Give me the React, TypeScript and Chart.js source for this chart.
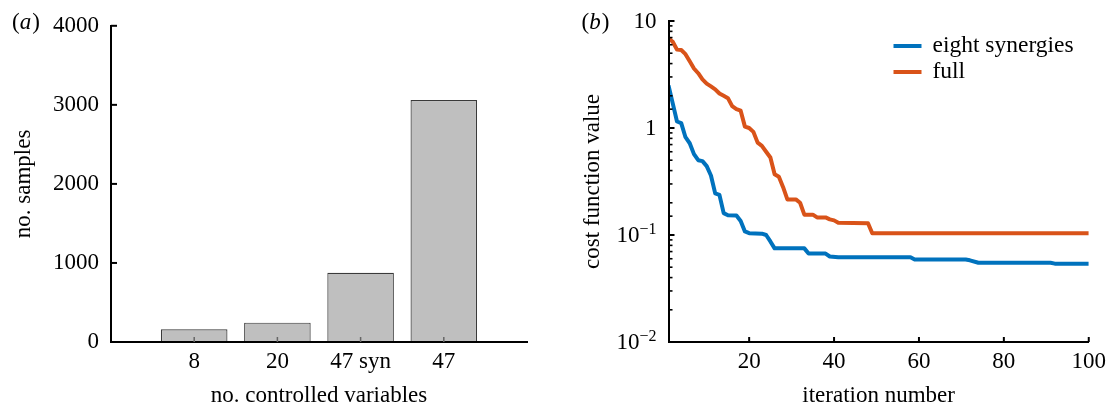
import React, { useEffect, useRef } from "react";
import { Chart, registerables } from "chart.js";

Chart.register(...registerables);

// ---------- data: panel (a) ----------
const categories = ["8", "20", "47 syn", "47"];
const sampleCounts = [160, 245, 875, 3060];
const sampleTicks = [0, 1000, 2000, 3000, 4000];

// ---------- data: panel (b) ----------
const synIter = [1, 2, 3, 4, 5, 6, 7, 8, 9, 10, 11, 12, 13, 14, 15, 17, 18, 19, 20, 23, 24, 25, 26, 33, 34, 38, 39, 41, 58, 59, 71, 72, 74, 91, 92, 100];
const synCost = [2.5, 1.7, 1.15, 1.11, 0.82, 0.72, 0.57, 0.5, 0.49, 0.44, 0.36, 0.245, 0.237, 0.16, 0.153, 0.152, 0.135, 0.108, 0.104, 0.103, 0.1, 0.087, 0.075, 0.075, 0.067, 0.067, 0.063, 0.062, 0.062, 0.059, 0.059, 0.058, 0.055, 0.055, 0.054, 0.054];

const fullIter = [1, 2, 3, 4, 5, 6, 7, 8, 9, 10, 11, 12, 13, 14, 15, 16, 17, 18, 19, 20, 21, 22, 23, 24, 25, 26, 27, 28, 29, 31, 32, 33, 35, 36, 38, 39, 40, 41, 48, 49, 100];
const fullCost = [6.9, 6.4, 5.4, 5.35, 4.9, 4.2, 3.6, 3.25, 2.85, 2.6, 2.45, 2.3, 2.1, 2.0, 1.9, 1.6, 1.5, 1.45, 1.03, 1.0, 0.92, 0.73, 0.68, 0.6, 0.53, 0.37, 0.35, 0.28, 0.215, 0.215, 0.2, 0.155, 0.155, 0.146, 0.146, 0.14, 0.137, 0.13, 0.129, 0.104, 0.104];

const iterTicks = [20, 40, 60, 80, 100];
const costDecades = [0.01, 0.1, 1, 10];

const seriesLabels = ["eight synergies", "full"];
const seriesColors = ["#0072bd", "#d95319"];

// ---------- styling ----------
const FAMILY = "'Liberation Serif', 'Times New Roman', Times, serif";
const FONT = { family: FAMILY, size: 23, weight: "normal" as const };
const BLACK = "#000";

function line(ctx: CanvasRenderingContext2D, x1: number, y1: number, x2: number, y2: number) {
  ctx.beginPath();
  ctx.moveTo(x1, y1);
  ctx.lineTo(x2, y2);
  ctx.stroke();
}

function drawPanelLetter(ctx: CanvasRenderingContext2D, letter: string, x: number, baseline: number) {
  ctx.save();
  ctx.fillStyle = BLACK;
  ctx.textAlign = "left";
  ctx.textBaseline = "alphabetic";
  ctx.font = `23px ${FAMILY}`;
  ctx.fillText("(", x, baseline);
  let w = ctx.measureText("(").width;
  ctx.font = `italic 23px ${FAMILY}`;
  ctx.fillText(letter, x + w, baseline);
  w += ctx.measureText(letter).width;
  ctx.font = `23px ${FAMILY}`;
  ctx.fillText(")", x + w + 1, baseline);
  ctx.restore();
}

const leftDecor = {
  id: "leftDecor",
  afterDraw(chart: any) {
    const ctx: CanvasRenderingContext2D = chart.ctx;
    const xs = chart.scales.x;
    const ys = chart.scales.y;
    ctx.save();
    ctx.lineCap = "butt";
    ctx.strokeStyle = BLACK;
    ctx.lineWidth = 2;
    sampleTicks.forEach((v) => {
      const py = ys.getPixelForValue(v);
      line(ctx, xs.left, py, xs.left + 6, py);
    });
    ctx.strokeStyle = "#666";
    ctx.lineWidth = 1.5;
    categories.forEach((_, i) => {
      const px = xs.getPixelForValue(i + 1);
      line(ctx, px, ys.bottom, px, ys.bottom - 5);
    });
    ctx.restore();
    drawPanelLetter(ctx, "a", 12, 29);
  },
};

const rightDecor = {
  id: "rightDecor",
  afterDraw(chart: any) {
    const ctx: CanvasRenderingContext2D = chart.ctx;
    const xs = chart.scales.x;
    const ys = chart.scales.y;
    const area = chart.chartArea;
    ctx.save();
    ctx.lineCap = "butt";
    ctx.strokeStyle = BLACK;
    // log ticks (inward)
    ys.ticks.forEach((t: any) => {
      const v = t.value;
      if (v < 0.01 - 1e-12 || v > 10 + 1e-9) return;
      const lg = Math.log10(v);
      const major = Math.abs(lg - Math.round(lg)) < 1e-6;
      const py = ys.getPixelForValue(v);
      ctx.lineWidth = major ? 2 : 1.6;
      line(ctx, area.left, py, area.left + (major ? 6 : 4), py);
    });
    // x ticks (inward)
    ctx.lineWidth = 2;
    iterTicks.forEach((v) => {
      const px = xs.getPixelForValue(v);
      line(ctx, px, area.bottom, px, area.bottom - 5);
    });
    // y labels with superscripts
    ctx.fillStyle = BLACK;
    ctx.textAlign = "right";
    ctx.textBaseline = "middle";
    const xr = area.left - 12;
    costDecades.forEach((v) => {
      const e = Math.round(Math.log10(v));
      const py = ys.getPixelForValue(v) + 1;
      if (e >= 0) {
        ctx.font = `23px ${FAMILY}`;
        ctx.fillText(e === 0 ? "1" : "1" + "0".repeat(e), xr, py);
      } else {
        const sup = "\u2212" + String(-e);
        ctx.font = `16px ${FAMILY}`;
        const sw = ctx.measureText(sup).width;
        ctx.fillText(sup, xr, py - 6);
        ctx.font = `23px ${FAMILY}`;
        ctx.fillText("10", xr - sw, py);
      }
    });
    // legend
    ctx.textAlign = "left";
    ctx.textBaseline = "middle";
    ctx.font = `23.5px ${FAMILY}`;
    chart.data.datasets.forEach((ds: any, i: number) => {
      const ly = area.top + 25 + i * 26;
      ctx.strokeStyle = ds.borderColor;
      ctx.lineWidth = 4;
      line(ctx, area.left + 225, ly, area.left + 253, ly);
      ctx.fillStyle = BLACK;
      ctx.fillText(ds.label, area.left + 264, ly);
    });
    ctx.restore();
    drawPanelLetter(ctx, "b", 21.5, 29);
  },
};

function leftConfig(): any {
  return {
    type: "bar",
    data: {
      datasets: [
        {
          label: "no. samples",
          data: categories.map((_, i) => ({ x: i + 1, y: sampleCounts[i] })),
          backgroundColor: "#bfbfbf",
          borderColor: "#3a3a3a",
          borderWidth: 1.2,
          barPercentage: 0.8,
          categoryPercentage: 1,
        },
      ],
    },
    options: {
      responsive: false,
      animation: false,
      layout: { padding: { top: 22, right: 33, bottom: 0, left: 0 } },
      plugins: { legend: { display: false }, tooltip: { enabled: false } },
      scales: {
        x: {
          type: "linear",
          min: 0,
          max: categories.length + 1,
          offset: false,
          grid: { display: false, drawTicks: false },
          border: { display: true, color: BLACK, width: 2, z: 1 },
          afterBuildTicks: (s: any) => {
            s.ticks = categories.map((_, i) => ({ value: i + 1 }));
          },
          afterFit: (s: any) => {
            s.height = 68;
          },
          ticks: {
            callback: (v: number) => categories[Math.round(v) - 1] ?? "",
            font: FONT,
            color: BLACK,
            padding: 6,
            maxRotation: 0,
            autoSkip: false,
          },
          title: {
            display: true,
            text: "no. controlled variables",
            font: FONT,
            color: BLACK,
            padding: { top: 0, bottom: 0 },
          },
        },
        y: {
          min: 0,
          max: 4000,
          ticks: {
            stepSize: 1000,
            font: FONT,
            color: BLACK,
            padding: 12,
            callback: (v: number) => String(v),
          },
          grid: { display: false, drawTicks: false },
          border: { display: true, color: BLACK, width: 2, z: 1 },
          afterFit: (s: any) => {
            s.width = 111;
          },
          title: {
            display: true,
            text: "no. samples",
            font: FONT,
            color: BLACK,
            padding: { top: 10, bottom: 0 },
          },
        },
      },
    },
    plugins: [leftDecor],
  };
}

function rightConfig(): any {
  const iters = [synIter, fullIter];
  const costs = [synCost, fullCost];
  return {
    type: "line",
    data: {
      datasets: seriesLabels.map((label, k) => ({
        label,
        data: iters[k].map((x, i) => ({ x, y: costs[k][i] })),
        borderColor: seriesColors[k],
        backgroundColor: seriesColors[k],
        borderWidth: 4,
        pointRadius: 0,
        tension: 0,
        fill: false,
        borderJoinStyle: "round",
      })),
    },
    options: {
      responsive: false,
      animation: false,
      layout: { padding: { top: 21, right: 21, bottom: 0, left: 0 } },
      plugins: { legend: { display: false }, tooltip: { enabled: false } },
      scales: {
        x: {
          type: "linear",
          min: 1,
          max: 100,
          grid: { display: false, drawTicks: false },
          border: { display: true, color: BLACK, width: 2, z: 1 },
          afterBuildTicks: (s: any) => {
            s.ticks = iterTicks.map((v) => ({ value: v }));
          },
          afterFit: (s: any) => {
            s.height = 68;
          },
          ticks: { font: FONT, color: BLACK, padding: 6, maxRotation: 0, autoSkip: false },
          title: {
            display: true,
            text: "iteration number",
            font: FONT,
            color: BLACK,
            padding: { top: 0, bottom: 0 },
          },
        },
        y: {
          type: "logarithmic",
          min: 0.01,
          max: 10,
          grid: { display: false, drawTicks: false },
          border: { display: true, color: BLACK, width: 2, z: 1 },
          ticks: { display: false },
          afterFit: (s: any) => {
            s.width = 108.5;
          },
          title: {
            display: true,
            text: "cost function value",
            font: FONT,
            color: BLACK,
            padding: { top: 19, bottom: 0 },
          },
        },
      },
    },
    plugins: [rightDecor],
  };
}

export default function App() {
  const leftRef = useRef<HTMLCanvasElement>(null);
  const rightRef = useRef<HTMLCanvasElement>(null);

  useEffect(() => {
    const c1 = new Chart(leftRef.current as HTMLCanvasElement, leftConfig());
    const c2 = new Chart(rightRef.current as HTMLCanvasElement, rightConfig());
    return () => {
      c1.destroy();
      c2.destroy();
    };
  }, []);

  return (
    <div style={{ position: "fixed", left: 0, top: 0, width: 1112, height: 410, background: "#fff" }}>
      <canvas
        ref={leftRef}
        width={560}
        height={410}
        style={{ position: "absolute", left: 0, top: 0, width: 560, height: 410 }}
      />
      <canvas
        ref={rightRef}
        width={552}
        height={410}
        style={{ position: "absolute", left: 560, top: 0, width: 552, height: 410 }}
      />
    </div>
  );
}
